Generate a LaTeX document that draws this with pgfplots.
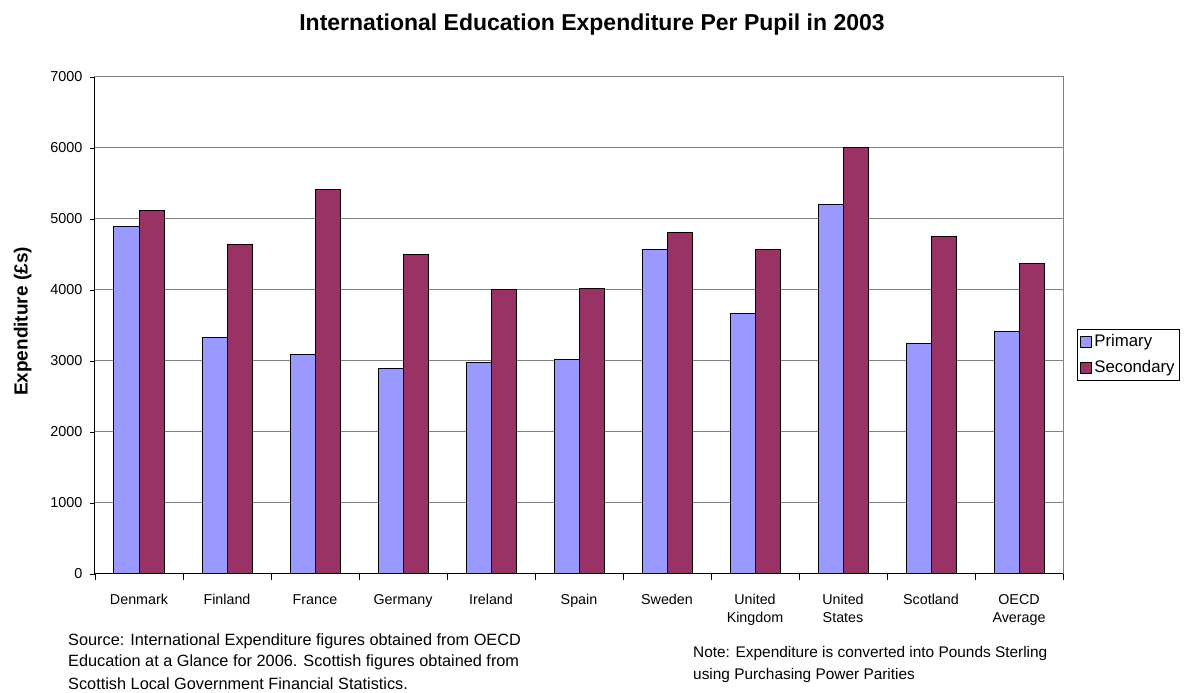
\documentclass[border=0pt]{standalone}
\usepackage{pgfplots}
\pgfplotsset{compat=1.18}
\usepackage{fontspec}
\setmainfont{Liberation Sans}
\definecolor{prim}{HTML}{9999FF}
\definecolor{sec}{HTML}{993366}
\definecolor{gridg}{HTML}{808080}
\begin{document}
\begin{tikzpicture}[x=1pt,y=1pt]
\useasboundingbox (0,0) rectangle (1189,693);
\begin{axis}[
  at={(95pt,119pt)}, anchor=south west,
  scale only axis, width=968pt, height=497pt,
  ybar=0pt, bar width=25pt,
  xmin=-0.5, xmax=10.5, ymin=0, ymax=7000,
  ytick={0,1000,...,7000},
  xtick={0,...,10},
  xticklabels={Denmark,Finland,France,Germany,Ireland,Spain,Sweden,United\\Kingdom,United\\States,Scotland,OECD\\Average},
  minor xtick={-0.5,0.5,...,10.5},
  major x tick style={draw=none},
  xtick pos=bottom, ytick pos=left,
  minor tick length=6pt,
  major tick length=5pt,
  tick align=outside,
  tick style={black, line width=0.8pt},
  xticklabel style={font=\fontsize{14.3}{18}\selectfont, align=center, text depth=0pt, anchor=north, yshift=-12pt},
  yticklabel style={font=\fontsize{14.4}{14}\selectfont, xshift=-4pt},
  /pgf/number format/assume math mode=true,
  /pgf/number format/1000 sep={},
  ymajorgrids, grid style={gridg, line width=1pt},
  axis line style={gridg, line width=1pt},
  legend style={at={(1.0145,0.4406)}, anchor=west, draw=black, line width=0.8pt,
    font=\fontsize{16.8}{18}\selectfont, inner sep=3pt, row sep=6.5pt, legend cell align=left,
    nodes={inner sep=2pt, text height=12pt, text depth=3.5pt}},
  legend image code/.code={\draw[#1, line width=0.9pt] (0pt,-5.5pt) rectangle (11pt,5.5pt);},
  clip=false,
]
\addplot[fill=prim, draw=black, line width=1pt] coordinates {
 (0,4890) (1,3330) (2,3095) (3,2898) (4,2982) (5,3025) (6,4576) (7,3665) (8,5210) (9,3245) (10,3412)};
\addplot[fill=sec, draw=black, line width=1pt] coordinates {
 (0,5126) (1,4642) (2,5421) (3,4501) (4,4000) (5,4028) (6,4808) (7,4576) (8,6014) (9,4758) (10,4370)};
\legend{Primary,Secondary}
\draw[black, line width=1pt] (axis cs:-0.5,7000) -- (axis cs:-0.5,0) -- (axis cs:10.5,0);
\end{axis}
\node[font=\fontsize{23}{26}\selectfont\bfseries] at (592,668) {International Education Expenditure Per Pupil in 2003};
\node[font=\fontsize{19}{20}\selectfont\bfseries, rotate=90, anchor=base, inner sep=0pt] at (27.5,371.5) {Expenditure (£s)};
\node[font=\fontsize{16.3}{21.5}\selectfont, align=left, anchor=west, inner sep=0pt] at (68,52) {Source: International Expenditure figures obtained from OECD};
\node[font=\fontsize{16.3}{21.5}\selectfont, align=left, anchor=west, inner sep=0pt] at (68,31) {Education at a Glance for 2006. Scottish figures obtained from};
\node[font=\fontsize{16.3}{21.5}\selectfont, align=left, anchor=west, inner sep=0pt] at (68,9) {Scottish Local Government Financial Statistics.};
\node[font=\fontsize{15.4}{21.5}\selectfont, align=left, anchor=west, inner sep=0pt] at (693,39) {Note: Expenditure is converted into Pounds Sterling};
\node[font=\fontsize{15.4}{21.5}\selectfont, align=left, anchor=west, inner sep=0pt] at (693,17) {using Purchasing Power Parities};
\end{tikzpicture}
\end{document}
